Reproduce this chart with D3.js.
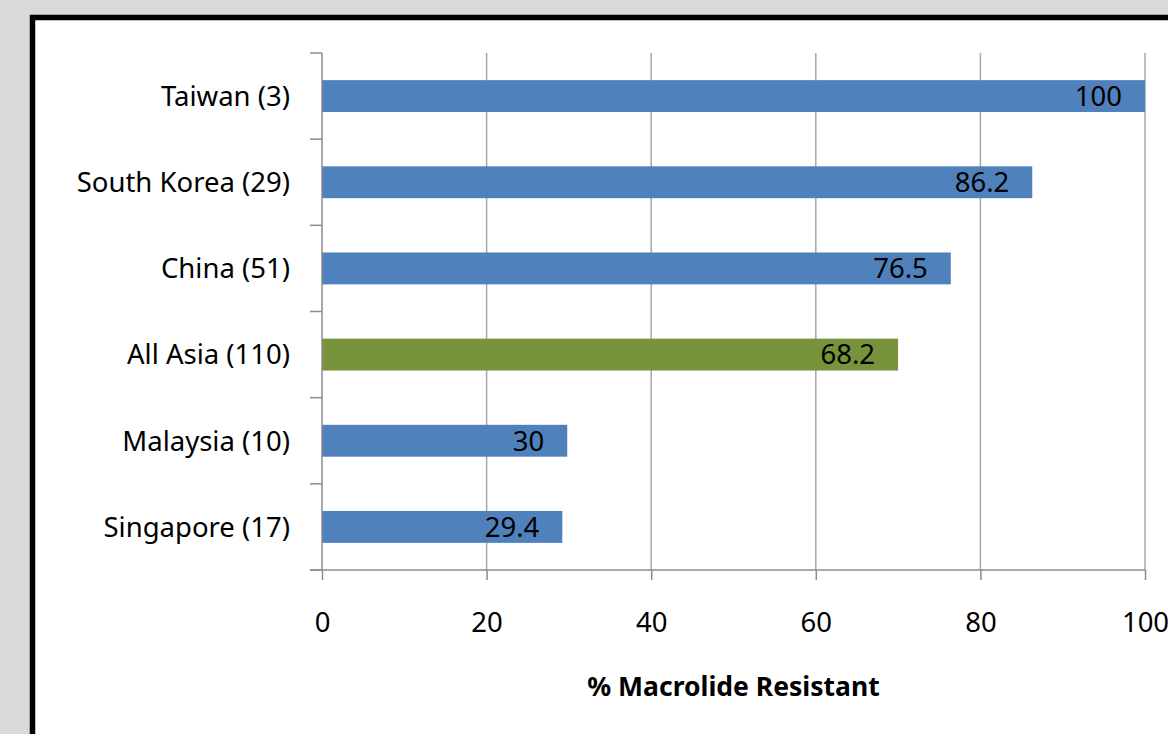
<!DOCTYPE html>
<html>
<head>
<meta charset="utf-8">
<script src="https://cdn.jsdelivr.net/npm/d3@7"></script>
<style>
  body { margin: 0; background: #d9d9d9; }
  svg { display: block; }
</style>
</head>
<body>
<div id="myDiv"></div>
<script>
// Data
var categories = ['Taiwan (3)', 'South Korea (29)', 'China (51)', 'All Asia (110)', 'Malaysia (10)', 'Singapore (17)'];
var barValues = [100, 86.3, 76.4, 70, 29.8, 29.2];
var valueLabels = ['100', '86.2', '76.5', '68.2', '30', '29.4'];
var barColors = ['#4f81bd', '#4f81bd', '#4f81bd', '#77933c', '#4f81bd', '#4f81bd'];
var xTicks = [0, 20, 40, 60, 80, 100];
var xAxisTitle = '% Macrolide Resistant';

var fontFamily = "'Noto Sans', 'Open Sans', sans-serif";
var fontSize = 27.5;
var axisColor = '#8c8c8c';
var gridColor = '#a6a6a6';

var W = 1168, H = 734;
var margin = {top: 53, right: 23, bottom: 164, left: 322};
var width = W - margin.left - margin.right,
    height = H - margin.top - margin.bottom;

var svg = d3.select('#myDiv').append('svg')
  .attr('width', W)
  .attr('height', H);

// Gray backdrop and white panel with thick black frame
svg.append('rect')
  .attr('width', W).attr('height', H)
  .attr('fill', '#d9d9d9');
svg.append('rect')
  .attr('x', 32.5).attr('y', 17.5)
  .attr('width', W + 50).attr('height', H + 50)
  .attr('fill', '#ffffff')
  .attr('stroke', '#000000')
  .attr('stroke-width', 5.5);

var g = svg.append('g')
  .attr('transform', 'translate(' + margin.left + ',' + margin.top + ')');

var x = d3.scaleLinear().domain([0, 100]).range([0, width]);
var y = d3.scaleBand().domain(categories).range([0, height])
  .paddingInner(0.63).paddingOuter(0.315);
var yOuter = d3.scaleBand().domain(categories).range([0, height]);

// Vertical gridlines
g.append('g')
  .selectAll('line')
  .data(xTicks.slice(1))
  .enter().append('line')
    .attr('x1', function(d){ return x(d); })
    .attr('x2', function(d){ return x(d); })
    .attr('y1', 0)
    .attr('y2', height)
    .attr('stroke', gridColor)
    .attr('stroke-width', 1.5);

// Bars
g.append('g')
  .selectAll('rect')
  .data(categories)
  .enter().append('rect')
    .attr('x', x(0))
    .attr('y', function(d){ return y(d); })
    .attr('width', function(d, i){ return x(barValues[i]) - x(0); })
    .attr('height', y.bandwidth())
    .attr('fill', function(d, i){ return barColors[i]; });

// Value labels (inside end)
g.append('g')
  .selectAll('text')
  .data(categories)
  .enter().append('text')
    .attr('x', function(d, i){ return x(barValues[i]) - 23; })
    .attr('y', function(d){ return y(d) + y.bandwidth() / 2; })
    .attr('dy', '0.36em')
    .attr('text-anchor', 'end')
    .style('font-family', fontFamily)
    .style('font-size', fontSize + 'px')
    .style('fill', '#000000')
    .text(function(d, i){ return valueLabels[i]; });

// Y axis: line plus category boundary ticks
var yAxisG = g.append('g');
yAxisG.append('line')
  .attr('x1', 0).attr('x2', 0)
  .attr('y1', 0).attr('y2', height)
  .attr('stroke', axisColor).attr('stroke-width', 1.5);
var boundaries = categories.map(function(d){ return yOuter(d); }).concat([height]);
yAxisG.selectAll('.ytick')
  .data(boundaries)
  .enter().append('line')
    .attr('class', 'ytick')
    .attr('x1', -12).attr('x2', 0)
    .attr('y1', function(d){ return d; })
    .attr('y2', function(d){ return d; })
    .attr('stroke', axisColor).attr('stroke-width', 1.5);
yAxisG.selectAll('.ylabel')
  .data(categories)
  .enter().append('text')
    .attr('class', 'ylabel')
    .attr('x', -32)
    .attr('y', function(d){ return yOuter(d) + yOuter.bandwidth() / 2; })
    .attr('dy', '0.36em')
    .attr('text-anchor', 'end')
    .style('font-family', fontFamily)
    .style('font-size', fontSize + 'px')
    .style('fill', '#000000')
    .text(function(d){ return d; });

// X axis
var xAxis = d3.axisBottom(x)
  .tickValues(xTicks)
  .tickSizeInner(10)
  .tickSizeOuter(0)
  .tickPadding(32);
var xAxisG = g.append('g')
  .attr('transform', 'translate(0,' + height + ')')
  .call(xAxis);
xAxisG.select('.domain').remove();
xAxisG.append('line')
  .attr('x1', -12).attr('x2', width)
  .attr('y1', 0).attr('y2', 0)
  .attr('stroke', axisColor).attr('stroke-width', 1.5);
xAxisG.selectAll('.tick line')
  .attr('stroke', axisColor).attr('stroke-width', 1.5);
xAxisG.selectAll('.tick text')
  .style('font-family', fontFamily)
  .style('font-size', fontSize + 'px')
  .style('fill', '#000000');

// X axis title
g.append('text')
  .attr('x', width / 2)
  .attr('y', height + 116)
  .attr('dy', '0.36em')
  .attr('text-anchor', 'middle')
  .style('font-family', fontFamily)
  .style('font-weight', 'bold')
  .style('font-size', '26.5px')
  .style('fill', '#000000')
  .text(xAxisTitle);
</script>
</body>
</html>
